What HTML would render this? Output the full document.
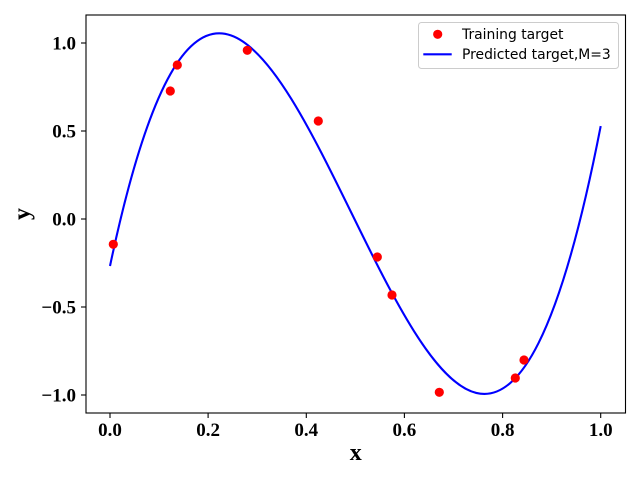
<!DOCTYPE html>
<html>
<head>
<meta charset="utf-8">
<style>
  html, body { margin: 0; padding: 0; background: #ffffff; }
  svg { display: block; }
  .tick { font-family: "Liberation Serif", serif; font-weight: bold; font-size: 19px; fill: #000; }
  .lab { font-family: "Liberation Serif", serif; font-weight: bold; font-size: 24px; fill: #000; }
  .leg { font-family: "DejaVu Sans", "Liberation Sans", sans-serif; font-size: 13.9px; fill: #000; }
</style>
</head>
<body>
<svg width="640" height="480" viewBox="0 0 640 480" xmlns="http://www.w3.org/2000/svg">
  <rect x="0" y="0" width="640" height="480" fill="#ffffff"/>

  <defs>
    <clipPath id="ax"><rect x="86" y="15" width="539.5" height="398"/></clipPath>
  </defs>

  <!-- curve -->
  <path clip-path="url(#ax)" d="M110,266 C273.57,-506.95 437.13,965.36 600.7,126.1" fill="none" stroke="#0000ff" stroke-width="2.1"/>

  <!-- data points -->
  <g fill="#ff0000">
    <circle cx="113.3" cy="244.3" r="4.6"/>
    <circle cx="170.3" cy="91" r="4.6"/>
    <circle cx="177.3" cy="65" r="4.6"/>
    <circle cx="247.3" cy="50.3" r="4.6"/>
    <circle cx="318.3" cy="121" r="4.6"/>
    <circle cx="377.3" cy="257" r="4.6"/>
    <circle cx="392" cy="295" r="4.6"/>
    <circle cx="439.3" cy="392.3" r="4.6"/>
    <circle cx="515.3" cy="378" r="4.6"/>
    <circle cx="524" cy="360" r="4.6"/>
  </g>

  <!-- axes frame -->
  <rect x="86" y="15" width="539.5" height="398" fill="none" stroke="#000" stroke-width="1.1"/>

  <!-- x ticks -->
  <g stroke="#000" stroke-width="1.1">
    <line x1="110" y1="413" x2="110" y2="418"/>
    <line x1="208.1" y1="413" x2="208.1" y2="418"/>
    <line x1="306.3" y1="413" x2="306.3" y2="418"/>
    <line x1="404.4" y1="413" x2="404.4" y2="418"/>
    <line x1="502.6" y1="413" x2="502.6" y2="418"/>
    <line x1="600.7" y1="413" x2="600.7" y2="418"/>
  </g>
  <g class="tick" text-anchor="middle">
    <text x="110" y="436">0.0</text>
    <text x="208.1" y="436">0.2</text>
    <text x="306.3" y="436">0.4</text>
    <text x="404.4" y="436">0.6</text>
    <text x="502.6" y="436">0.8</text>
    <text x="600.7" y="436">1.0</text>
  </g>

  <!-- y ticks -->
  <g stroke="#000" stroke-width="1.1">
    <line x1="81" y1="43" x2="86" y2="43"/>
    <line x1="81" y1="131" x2="86" y2="131"/>
    <line x1="81" y1="219" x2="86" y2="219"/>
    <line x1="81" y1="307" x2="86" y2="307"/>
    <line x1="81" y1="395" x2="86" y2="395"/>
  </g>
  <g class="tick" text-anchor="end">
    <text x="76" y="49.5">1.0</text>
    <text x="76" y="137.5">0.5</text>
    <text x="76" y="225.5">0.0</text>
    <text x="76" y="313.5">−0.5</text>
    <text x="76" y="401.5">−1.0</text>
  </g>

  <!-- axis labels -->
  <text class="lab" x="355.7" y="460" text-anchor="middle">x</text>
  <text class="lab" transform="translate(29.5,214) rotate(-90)" x="0" y="0" text-anchor="middle">y</text>

  <!-- legend -->
  <rect x="418.5" y="22.5" width="200" height="46" rx="3" ry="3" fill="#ffffff" fill-opacity="0.8" stroke="#cccccc" stroke-width="1"/>
  <circle cx="437.7" cy="34.3" r="4.6" fill="#ff0000"/>
  <line x1="423.3" y1="54.3" x2="451.7" y2="54.3" stroke="#0000ff" stroke-width="2.1"/>
  <text class="leg" x="462" y="39.2">Training target</text>
  <text class="leg" x="462" y="59.2">Predicted target,M=3</text>
</svg>
</body>
</html>
